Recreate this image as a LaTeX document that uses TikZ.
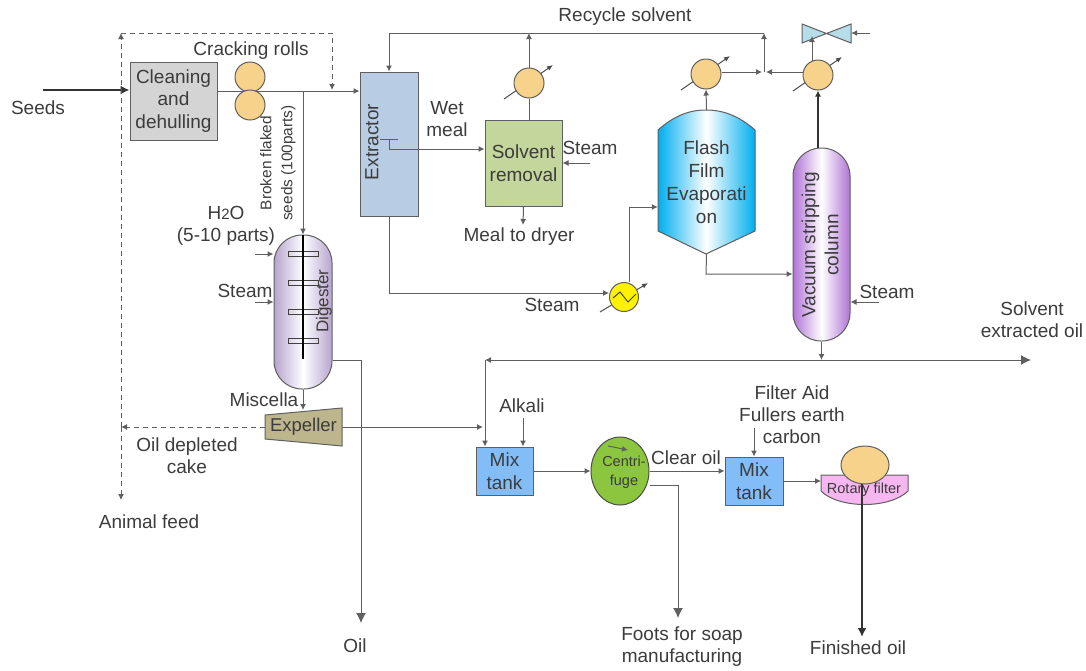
\documentclass[tikz,border=0pt]{standalone}
\usepackage{fontspec}
\setmainfont{Liberation Sans}
\usetikzlibrary{arrows.meta,shapes.geometric}
\definecolor{linegray}{HTML}{5F5F5F}
\definecolor{textgray}{HTML}{3C3C3C}
\definecolor{rollorange}{HTML}{F6D28B}
\definecolor{tankblue}{HTML}{83BDF8}
\definecolor{flashblue}{HTML}{00AEEF}
\definecolor{digestpurple}{HTML}{B6A4CE}
\definecolor{columnpurple}{HTML}{B073D6}
\definecolor{cleangray}{HTML}{D4D4D4}
\definecolor{extractblue}{HTML}{B8CCE4}
\definecolor{removegreen}{HTML}{C3D69B}
\definecolor{expelkhaki}{HTML}{BDB58C}
\definecolor{valveblue}{HTML}{B7DDE8}
\definecolor{centrigreen}{HTML}{8CC63F}
\definecolor{filterpink}{HTML}{F6B6F0}
\begin{document}
\begin{tikzpicture}[x=1pt, y=-1pt,
  lbl/.style={text=textgray, font=\fontsize{19}{22}\selectfont, align=center, inner sep=0pt},
  small/.style={text=textgray, font=\fontsize{15.4}{21}\selectfont, align=center, inner sep=0pt},
  tiny/.style={text=textgray, font=\fontsize{14.5}{17}\selectfont, align=center, inner sep=0pt},
  unit/.style={draw=linegray, line width=1pt, inner sep=0pt, text=textgray, align=center,
               font=\fontsize{19}{22.5}\selectfont},
  roll/.style={draw=linegray, line width=1pt, fill=rollorange, circle, minimum size=30pt, inner sep=0pt},
  flow/.style={draw=linegray, line width=1pt, -{Latex[length=6pt,width=6pt]}},
  plain/.style={draw=linegray, line width=1pt},
  bigflow/.style={draw=black!80, line width=2pt, -{Latex[length=9pt,width=9pt]}},
  endflow/.style={draw=linegray, line width=1pt, -{Latex[length=10pt,width=10pt]}},
  dashflow/.style={flow, dash pattern=on 5pt off 4pt},
  diag/.style={draw=black!70, line width=1pt, -{Latex[length=6pt,width=5pt]}}]
\useasboundingbox (0,0) rectangle (1086,670);
% ---- free ends of the streams ----
\coordinate (seedsin) at (43,90);
\coordinate (feedend) at (303,91);
\coordinate (dashturn) at (332,33);
\coordinate (dashdrop) at (332,90);
\coordinate (dashtop) at (121,33);
\coordinate (dashbot) at (121,500);
\coordinate (recycle) at (764,33);
\coordinate (recycleleft) at (389,33);
\coordinate (junction) at (764,72);
\coordinate (oilturn) at (361,360);
\coordinate (oilend) at (361,623);
\coordinate (railend) at (1031,360);
\coordinate (railstart) at (485,360);
\coordinate (footsturn) at (678,485);
\coordinate (footsend) at (678,618);
\coordinate (finishstart) at (862,484);
\coordinate (finishend) at (862,637);
% ---- feed section ----
\node[unit, fill=cleangray, minimum width=87pt, minimum height=78pt] (clean) at (173.5,101) {Cleaning\\and\\dehulling};
\node[unit, fill=extractblue, minimum width=58pt, minimum height=144pt] (extractor) at (389,144) {};
\draw[bigflow] (seedsin) -- (clean.west |- seedsin);
\draw[flow] (clean.east |- feedend) -- (extractor.west |- feedend);
\node[roll] (rolltop) at (250,77) {};
\node[roll] (rollbot) at (250,105) {};
\draw[dashflow] (dashtop) -- (dashturn) -- (dashdrop);
% ---- digester ----
\node[unit, left color=digestpurple, right color=digestpurple, middle color=white, rounded corners=28pt,
      minimum width=58pt, minimum height=154pt] (digester) at (303,312) {};
\draw[flow] (feedend) -- (digester.north);
\foreach \y in {254,283,312,341}
  \draw[draw=black!75, line width=1pt] (288,\y-2.5) rectangle (318,\y+2.5);
\draw[draw=black, line width=1.5pt] (digester.north) -- (303,359);
\node[small, rotate=90, font=\fontsize{17}{20}\selectfont] (digestlbl) at (324,301) {Digester};
\coordinate (waterin) at (255,254);
\coordinate (steamin) at (255,302);
\draw[flow] (waterin) -- (digester.west |- waterin);
\draw[flow] (steamin) -- (digester.west |- steamin);
\draw[plain] (digester.east |- oilturn) -- (oilturn);
\draw[endflow] (oilturn) -- (oilend);
% ---- expeller ----
\draw[plain, fill=expelkhaki] (265,415) -- (342,408) -- (342,446) -- (265,439) -- cycle;
\node[lbl, minimum width=77pt, font=\fontsize{18.5}{22}\selectfont] (expeller) at (303.5,427) {Expeller};
\draw[flow] (digester.south) -- (303,410);
\draw[dashflow] (expeller.west) -- (dashtop |- expeller.west);
\draw[dashflow] (dashtop |- expeller.west) -- (dashbot);
\draw[dashflow] (dashtop |- expeller.west) -- (dashtop);
% ---- extractor and solvent removal ----
\node[lbl, rotate=90] (extractorlbl) at (372,142) {Extractor};
\node[unit, fill=removegreen, minimum width=77pt, minimum height=86pt] (removal) at (523.5,163) {Solvent\\removal};
\draw[plain] (380,139) -- (398,139);
\draw[flow] (389,139) |- (removal.west |- 389,149);
\draw[flow] (590,163) -- (removal.east |- 590,163);
\draw[flow] (removal.south) -- (523,225);
\draw[flow] (recycle) -- (recycleleft) -- (extractor.north);
% ---- flash evaporator ----
\path[draw=linegray, line width=1pt, left color=flashblue, right color=flashblue, middle color=white]
  (658,130) .. controls (675,115) and (690,110) .. (706,110) .. controls (722,110) and (738,115) .. (755,130)
  -- (755,231) -- (706,254) -- (658,231) -- cycle;
\node[lbl, minimum width=97pt, minimum height=144pt, font=\fontsize{19}{23}\selectfont] (flash) at (706.5,182)
  {Flash\\Film\\Evaporati\\on};
% ---- vacuum column ----
\node[unit, left color=columnpurple, right color=columnpurple, middle color=white, rounded corners=28pt,
      minimum width=57pt, minimum height=193pt] (column) at (821.5,244.5) {};
\node[lbl, rotate=90, font=\fontsize{19}{23}\selectfont] (columnlbl) at (820,245) {Vacuum stripping\\column};
\draw[flow] (flash.south) -- (706,274) -- (column.west |- 706,274);
\draw[flow] (879,302) -- (column.east |- 879,302);
% ---- condensers, each with its slanted cooling arrow ----
\foreach \name/\x/\y in {coolrem/529/83, coolflash/706/74, coolcol/818/75} {
  \coordinate (\name) at (\x,\y);
  \draw[diag] ([shift={(-25,16)}]\name) -- ([shift={(24,-18)}]\name);
  \node[roll] (\name) at (\name) {};
}
\draw[plain] (removal.north -| coolrem) -- (coolrem.south);
\draw[flow] (coolrem.north) -- (recycle -| coolrem);
\draw[flow] (flash.north) -- (coolflash.south);
\draw[flow] (coolflash.east |- junction) -- ([xshift=-2pt]junction);
\draw[flow] (coolcol.west |- junction) -- ([xshift=2pt]junction);
\draw[flow] (junction) -- (recycle);
\draw[bigflow, line width=1.5pt, -{Latex[length=6pt,width=6pt]}] (column.north -| coolcol) -- (coolcol.south);
% ---- valve ----
\path[draw=linegray, line width=1pt, fill=valveblue]
  (802,24) -- (851,43) -- (851,24) -- (802,43) -- cycle;
\node[inner sep=0pt, minimum width=49pt, minimum height=19pt] (valve) at (826.5,33.5) {};
\draw[flow] (812,61) -- (812,36);
\draw[flow] (870,33) -- (valve.east |- 870,33);
% ---- heater between extractor and flash ----
\coordinate (heater) at (624,297);
\draw[diag] (600,312) -- (648,283);
\node[draw=linegray, line width=1pt, fill=yellow, circle, minimum size=29pt, inner sep=0pt] (heater) at (heater) {};
\draw[draw=black!75, line width=1pt] (613,298) -- (620,292) -- (628,302) -- (636,294);
\draw[flow] (extractor.south) |- (heater.west |- 389,293);
\draw[flow] (heater.north -| 629,0) -- (629,207) -- (flash.west |- 629,207);
% ---- oil rail and refining ----
\node[unit, fill=tankblue, minimum width=57pt, minimum height=48pt] (mixa) at (504.5,471) {Mix\\tank};
\node[unit, fill=tankblue, minimum width=58pt, minimum height=48pt] (mixb) at (754,481) {Mix\\tank};
\node[unit, fill=centrigreen, ellipse, minimum width=58pt, minimum height=68pt, draw=black!70] (centri) at (620,471) {};
\draw[flow] (608,446) -- (628,450);
\node[tiny, font=\fontsize{14.5}{19}\selectfont] (centrilbl) at (624,472) {Centri-\\fuge};
\draw[endflow, {Latex[length=6pt,width=6pt]}-{Latex[length=10pt,width=10pt]}] (railstart) -- (railend);
\draw[flow] (column.south) -- (column.south |- railend);
\draw[flow] (railstart) -- (railstart |- mixa.north);
\draw[flow] (expeller.east) -- (483,427);
\draw[flow] (523,418) -- (mixa.north -| 523,0);
\draw[flow] (mixa.east) -- (centri.west);
\draw[flow] (centri.east) -- (mixb.west |- centri.east);
\draw[plain] (centri.east |- footsturn) -- (footsturn);
\draw[endflow] (footsturn) -- (footsend);
\draw[flow] (754,428) -- (mixb.north);
% ---- rotary filter ----
\draw[plain, fill=filterpink] (821,475) -- (908,475) -- (908,491) .. controls (890,509) and (839,509) .. (821,491) -- cycle;
\node[draw=linegray, line width=1pt, fill=rollorange, ellipse, minimum width=48pt, minimum height=38pt, inner sep=0pt] (drum) at (865,465) {};
\node[tiny] (filterlbl) at (864,490) {Rotary filter};
\draw[flow] (mixb.east) -- (821,481);
\draw[bigflow] (finishstart) -- (finishend);
% ---- stream labels ----
\node[lbl] (seedslbl) at (38,108) {Seeds};
\node[lbl] (crackinglbl) at (251,51) {Cracking rolls};
\node[small, rotate=90] (brokenlbl) at (278,163) {Broken flaked\\seeds (100parts)};
\node[lbl] (waterlbl) at (226,226) {H{\fontsize{15}{15}\selectfont 2}O\\(5-10 parts)};
\node[lbl] (steamdig) at (245,291) {Steam};
\node[lbl] (miscella) at (264,400) {Miscella};
\node[lbl] (cakelbl) at (187,456) {Oil depleted\\cake};
\node[lbl] (feedlbl) at (149,522) {Animal feed};
\node[lbl] (oillbl) at (355,646) {Oil};
\node[lbl] (recyclelbl) at (625,17) {Recycle solvent};
\node[lbl] (wetlbl) at (447,119) {Wet\\meal};
\node[lbl] (steamrem) at (590,148) {Steam};
\node[lbl] (dryerlbl) at (519,237) {Meal to dryer};
\node[lbl] (steamheat) at (552,305) {Steam};
\node[lbl] (steamcol) at (887,292) {Steam};
\node[lbl] (solventlbl) at (1032,320) {Solvent\\extracted oil};
\node[lbl] (alkalilbl) at (522,406) {Alkali};
\node[lbl] (aidlbl) at (792,415) {Filter Aid\\Fullers earth\\carbon};
\node[lbl] (clearlbl) at (686,458) {Clear oil};
\node[lbl] (footslbl) at (682,647) {Foots for soap\\manufacturing};
\node[lbl] (finishlbl) at (858,648) {Finished oil};
\end{tikzpicture}
\end{document}
